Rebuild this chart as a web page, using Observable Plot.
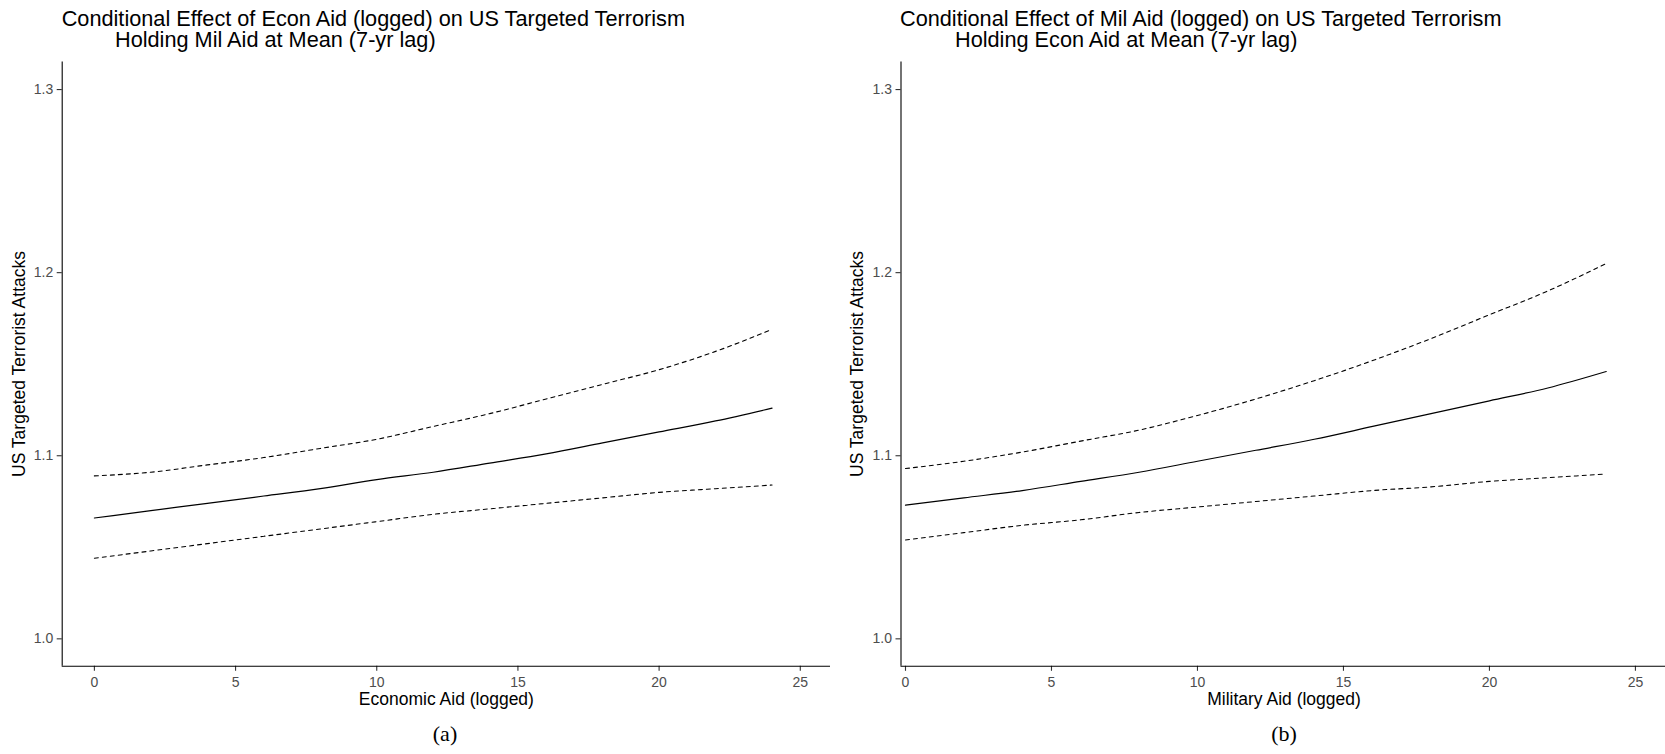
<!DOCTYPE html>
<html><head><meta charset="utf-8">
<script src="https://cdn.jsdelivr.net/npm/d3@7"></script>
<script src="https://cdn.jsdelivr.net/npm/@observablehq/plot@0.6"></script>
<style>
body{margin:0;background:#fff;}
#wrap{position:relative;width:1665px;height:754px;overflow:hidden;background:#fff;font-family:"Liberation Sans",Arial,sans-serif;}
.t{position:absolute;white-space:nowrap;color:#000;line-height:1;}
.panel{position:absolute;top:0;}
.cap{font-family:"Liberation Serif","Times New Roman",serif;}
</style></head><body><div id="wrap"></div>
<script>
// ---- data ----
const xVals = [0, 2, 4, 6, 8, 10, 12, 14, 16, 18, 20, 22, 24];
const econFit   = [1.066, 1.070, 1.074, 1.078, 1.082, 1.087, 1.091, 1.096, 1.101, 1.107, 1.113, 1.119, 1.126];
const econUpper = [1.089, 1.091, 1.095, 1.099, 1.104, 1.109, 1.116, 1.123, 1.131, 1.139, 1.147, 1.157, 1.169];
const econLower = [1.044, 1.048, 1.052, 1.056, 1.060, 1.064, 1.068, 1.071, 1.074, 1.077, 1.080, 1.082, 1.084];
const milFit    = [1.073, 1.077, 1.081, 1.086, 1.091, 1.097, 1.103, 1.109, 1.116, 1.123, 1.130, 1.137, 1.146];
const milUpper  = [1.093, 1.097, 1.102, 1.108, 1.114, 1.122, 1.131, 1.141, 1.152, 1.164, 1.177, 1.190, 1.205];
const milLower  = [1.054, 1.058, 1.062, 1.065, 1.069, 1.072, 1.075, 1.078, 1.081, 1.083, 1.086, 1.088, 1.090];
const xTicks = [0, 5, 10, 15, 20, 25];
const yTicks = [1.0, 1.1, 1.2, 1.3];
const titlesA = ["Conditional Effect of Econ Aid (logged) on US Targeted Terrorism", "Holding Mil Aid at Mean (7-yr lag)"];
const titlesB = ["Conditional Effect of Mil Aid (logged) on US Targeted Terrorism", "Holding Econ Aid at Mean (7-yr lag)"];
const yTitle = "US Targeted Terrorist Attacks";
const xTitleA = "Economic Aid (logged)";
const xTitleB = "Military Aid (logged)";
const capA = "(a)", capB = "(b)";

const wrap = document.getElementById("wrap");
const rows = arr => xVals.map((x, i) => ({x, y: arr[i]}));
const yDomain = [0.985, 1.315];

function panel({left, width, mLeft, mRight, xDomain, fit, upper, lower}) {
  const chart = Plot.plot({
    width, height: 700,
    marginLeft: mLeft, marginRight: mRight, marginTop: 61.6, marginBottom: 34.2,
    x: {domain: xDomain, label: null},
    y: {domain: yDomain, label: null},
    style: {fontFamily: '"Liberation Sans",Arial,sans-serif', background: "#fff", overflow: "visible"},
    marks: [
      Plot.axisX({ticks: xTicks, tickSize: 5, tickPadding: 6, fontSize: 14, fill: "#4d4d4d", stroke: "#333", strokeWidth: 1.1, label: null, tickFormat: d => String(d)}),
      Plot.axisY({ticks: yTicks, tickSize: 5, tickPadding: 4, fontSize: 14, fill: "#4d4d4d", stroke: "#333", strokeWidth: 1.1, label: null, tickFormat: d3.format(".1f")}),
      Plot.ruleX([xDomain[0]], {stroke: "#000", strokeWidth: 1.1}),
      Plot.ruleY([yDomain[0]], {stroke: "#000", strokeWidth: 1.1}),
      Plot.line(rows(upper), {x: "x", y: "y", stroke: "#000", strokeWidth: 1.1, strokeDasharray: "4,4", curve: "monotone-x"}),
      Plot.line(rows(lower), {x: "x", y: "y", stroke: "#000", strokeWidth: 1.1, strokeDasharray: "4,4", curve: "monotone-x"}),
      Plot.line(rows(fit), {x: "x", y: "y", stroke: "#000", strokeWidth: 1.2, curve: "monotone-x"})
    ]
  });
  chart.classList.add("panel");
  chart.style.left = left + "px";
  wrap.appendChild(chart);
}

panel({left: 0, width: 840, mLeft: 61.7, mRight: 10, xDomain: [-1.14, 26.07], fit: econFit, upper: econUpper, lower: econLower});
panel({left: 840, width: 825, mLeft: 60.5, mRight: 0, xDomain: [-0.154, 26.03], fit: milFit, upper: milUpper, lower: milLower});

function text(str, x, baseline, size, opts = {}) {
  const d = document.createElement("div");
  d.className = "t" + (opts.serif ? " cap" : "");
  d.textContent = str;
  d.style.fontSize = size + "px";
  const asc = opts.serif ? 0.8375 : 0.8465;
  d.style.top = (baseline - asc * size) + "px";
  d.style.left = x + "px";
  if (opts.center) d.style.transform = "translateX(-50%)";
  wrap.appendChild(d);
  return d;
}
function vtext(str, cx, cy, size) {
  const d = document.createElement("div");
  d.className = "t";
  d.textContent = str;
  d.style.fontSize = size + "px";
  d.style.left = cx + "px";
  d.style.top = cy + "px";
  d.style.transform = "translate(-50%,-50%) rotate(-90deg)";
  wrap.appendChild(d);
}

text(titlesA[0], 61.7, 26, 21.7);
text(titlesA[1], 115, 47.7, 21.7);
text(titlesB[0], 900, 26, 21.7);
text(titlesB[1], 955, 47.7, 21.7);
vtext(yTitle, 20, 364, 17.5);
vtext(yTitle, 858, 364, 17.5);
text(xTitleA, 446.4, 705.7, 17.5, {center: true});
text(xTitleB, 1284, 705.7, 17.5, {center: true});
text(capA, 445, 741, 22, {center: true, serif: true});
text(capB, 1284, 741, 22, {center: true, serif: true});
</script></body></html>
